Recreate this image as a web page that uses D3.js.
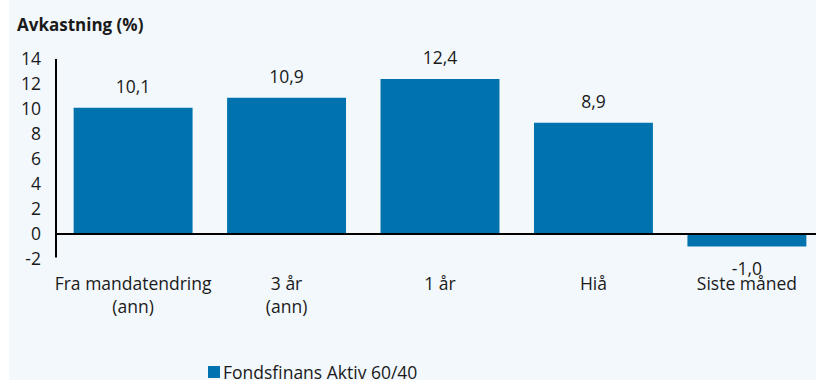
<!DOCTYPE html>
<html><head><meta charset="utf-8">
<script src="https://cdn.jsdelivr.net/npm/d3@7"></script>
<style>
body{margin:0;background:#fff;}
svg{display:block;font-family:"Open Sans",sans-serif;}
</style></head><body>
<svg id="c" width="816" height="380"></svg>
<script>
const categories = [["Fra mandatendring","(ann)"],["3 år","(ann)"],["1 år"],["Hiå"],["Siste måned"]];
const values = [10.1, 10.9, 12.4, 8.9, -1.0];
const valueLabels = ["10,1","10,9","12,4","8,9","-1,0"];
const yTicks = [-2,0,2,4,6,8,10,12,14];
const seriesName = "Fondsfinans Aktiv 60/40";
const title = "Avkastning (%)";

const svg = d3.select("#c");
const color = "#0073ae";
const txt = "#1a1a1a";
const fs = 17.5;
svg.append("rect").attr("x",9).attr("y",0).attr("width",807).attr("height",380).attr("fill","#f2f8fc");

const y = d3.scaleLinear().domain([-2,14]).range([259,59]);
const x = d3.scaleBand().domain(d3.range(values.length)).range([56,824]).paddingInner(0.225).paddingOuter(0.115);

svg.append("text").attr("x",17).attr("y",31).attr("font-size",17).attr("font-weight","bold").attr("fill",txt).text(title);

// y tick labels
svg.append("g").selectAll("text").data(yTicks).join("text")
  .attr("x",41).attr("y",d=>y(d)).attr("dy","0.36em").attr("text-anchor","end")
  .attr("font-size",fs).attr("fill",txt).text(d=>d);

// bars
svg.append("g").selectAll("rect").data(values).join("rect")
  .attr("x",(d,i)=>x(i)).attr("width",x.bandwidth())
  .attr("y",d=>y(Math.max(0,d))).attr("height",d=>Math.abs(y(d)-y(0)))
  .attr("fill",color);

// axes lines
svg.append("line").attr("x1",56).attr("x2",56).attr("y1",y(14)).attr("y2",257.5).attr("stroke","#000").attr("stroke-width",2);
svg.append("line").attr("x1",55).attr("x2",816).attr("y1",y(0)).attr("y2",y(0)).attr("stroke","#000").attr("stroke-width",2);

// value labels
svg.append("g").selectAll("text").data(values).join("text")
  .attr("x",(d,i)=>x(i)+x.bandwidth()/2)
  .attr("y",d=> d>=0 ? y(d)-21 : y(d)+22)
  .attr("dy","0.36em").attr("text-anchor","middle").attr("font-size",fs).attr("fill",txt)
  .text((d,i)=>valueLabels[i]);

// category labels
const cg = svg.append("g").selectAll("text").data(categories).join("text")
  .attr("x",(d,i)=>x(i)+x.bandwidth()/2).attr("y",284)
  .attr("text-anchor","middle").attr("font-size",fs).attr("fill",txt);
cg.selectAll("tspan").data(d=>d).join("tspan")
  .attr("x",function(){return this.parentNode.getAttribute("x");})
  .attr("dy",(d,j)=>j===0?"0.36em":"23").text(d=>d);

// legend
svg.append("rect").attr("x",208).attr("y",366).attr("width",12).attr("height",12).attr("fill",color);
svg.append("text").attr("x",223).attr("y",379).attr("font-size",fs).attr("fill",txt).text(seriesName);
</script></body></html>
